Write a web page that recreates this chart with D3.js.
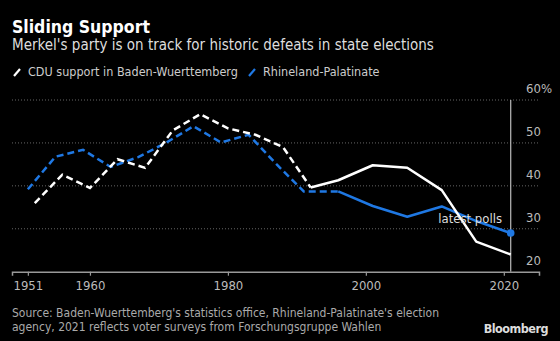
<!DOCTYPE html>
<html>
<head>
<meta charset="utf-8">
<script src="https://cdn.jsdelivr.net/npm/d3@7"></script>
<style>
  body { margin: 0; background: #000; }
  svg { display: block; }
  text { font-family: "DejaVu Sans Condensed", "Liberation Sans Narrow", Roboto, sans-serif; }
</style>
</head>
<body>
<div id="chart"></div>
<script>
// CDU vote share (%) in Baden-Wuerttemberg
var bwYears = [1952, 1956, 1960, 1964, 1968, 1972, 1976, 1980, 1984, 1988, 1992, 1996, 2001, 2006, 2011, 2016, 2021];
var bwValues = [36.0, 42.6, 39.5, 46.2, 44.2, 52.9, 56.7, 53.4, 51.9, 49.0, 39.6, 41.3, 44.8, 44.2, 39.0, 27.0, 24.0];
// CDU vote share (%) in Rhineland-Palatinate
var rpYears = [1951, 1955, 1959, 1963, 1967, 1971, 1975, 1979, 1983, 1987, 1991, 1996, 2001, 2006, 2011, 2016, 2021];
var rpValues = [39.2, 46.8, 48.4, 44.4, 46.7, 50.0, 53.9, 50.1, 51.9, 45.1, 38.7, 38.7, 35.3, 32.8, 35.2, 31.8, 29.0];
// last year drawn dashed for each series
var bwDashEnd = 1992;
var rpDashEnd = 1996;

var xTicks = [1951, 1960, 1980, 2000, 2020];
var yTicks = [20, 30, 40, 50, 60];
var yTickLabels = ["20", "30", "40", "50", "60%"];

var width = 560, height = 341;
var svg = d3.select("#chart").append("svg")
    .attr("width", width)
    .attr("height", height);

var blue = "#1f78e3";

// scales
var x = d3.scaleLinear().domain([1948.7, 2025.1]).range([12, 539]);
var y = d3.scaleLinear().domain([20, 60]).range([271.7, 100]);

// title block
svg.append("text").attr("x", 12).attr("y", 32.5)
    .attr("fill", "#fff").attr("font-size", 17.5).attr("font-weight", "bold")
    .text("Sliding Support");
svg.append("text").attr("x", 12).attr("y", 50)
    .attr("fill", "#ddd").attr("font-size", 15)
    .text("Merkel's party is on track for historic defeats in state elections");

// legend
var legend = [
    { label: "CDU support in Baden-Wuerttemberg", color: "#fff", x: 14 },
    { label: "Rhineland-Palatinate", color: blue, x: 249 }
];
var lg = svg.selectAll(".legend").data(legend).enter().append("g")
    .attr("transform", d => `translate(${d.x}, 76)`);
lg.append("line")
    .attr("x1", 0).attr("y1", 0).attr("x2", 6).attr("y2", -7)
    .attr("stroke", d => d.color).attr("stroke-width", 2.2);
lg.append("text").attr("x", 14).attr("y", 0)
    .attr("fill", "#ccc").attr("font-size", 12.5)
    .text(d => d.label);

// gridlines
svg.append("g").selectAll("line")
    .data(yTicks.filter(d => d > 20))
    .enter().append("line")
    .attr("x1", 12).attr("x2", 539)
    .attr("y1", d => y(d)).attr("y2", d => y(d))
    .attr("stroke", "#666").attr("stroke-width", 1)
    .attr("stroke-dasharray", "1,2");

// y labels, right side, above each line
svg.append("g").selectAll("text")
    .data(yTicks)
    .enter().append("text")
    .attr("x", 526).attr("y", d => y(d) - 7)
    .attr("fill", "#bbb").attr("font-size", 13)
    .text((d, i) => yTickLabels[i]);

// right vertical line at the latest year
svg.append("line")
    .attr("x1", x(2021)).attr("x2", x(2021))
    .attr("y1", y(60)).attr("y2", y(20))
    .attr("stroke", "#bbb").attr("stroke-width", 1.2);

// x axis
var xAxis = d3.axisBottom(x).tickValues(xTicks).tickFormat(d3.format("d"))
    .tickSize(4).tickPadding(5);
var gx = svg.append("g")
    .attr("transform", `translate(0, ${y(20)})`)
    .call(xAxis);
gx.select(".domain").attr("stroke", "#999").attr("stroke-width", 1.5);
gx.selectAll(".tick line").attr("stroke", "#999").attr("stroke-width", 1.2);
gx.selectAll(".tick text").attr("fill", "#bbb").attr("font-size", 13)
    .attr("font-family", null);

// lines
var line = d3.line().x(d => x(d[0])).y(d => y(d[1]));
function drawSeries(years, values, dashEnd, color) {
    var pts = years.map((yr, i) => [yr, values[i]]);
    var dashed = pts.filter(p => p[0] <= dashEnd);
    var solid = pts.filter(p => p[0] >= dashEnd);
    svg.append("path").datum(dashed)
        .attr("d", line).attr("fill", "none")
        .attr("stroke", color).attr("stroke-width", 2.5)
        .attr("stroke-dasharray", "7,4");
    svg.append("path").datum(solid)
        .attr("d", line).attr("fill", "none")
        .attr("stroke", color).attr("stroke-width", 2.5)
        .attr("stroke-linejoin", "round");
}
drawSeries(rpYears, rpValues, rpDashEnd, blue);
drawSeries(bwYears, bwValues, bwDashEnd, "#fff");

// latest poll marker
var lastI = rpYears.length - 1;
svg.append("circle")
    .attr("cx", x(rpYears[lastI])).attr("cy", y(rpValues[lastI]))
    .attr("r", 3.8).attr("fill", blue);
svg.append("text")
    .attr("x", 502).attr("y", 223)
    .attr("text-anchor", "end")
    .attr("fill", "#ddd").attr("font-size", 13)
    .text("latest polls");

// source
var source = svg.append("text").attr("fill", "#aaa").attr("font-size", 12);
source.append("tspan").attr("x", 12).attr("y", 317)
    .text("Source: Baden-Wuerttemberg's statistics office, Rhineland-Palatinate's election");
source.append("tspan").attr("x", 12).attr("y", 331)
    .text("agency, 2021 reflects voter surveys from Forschungsgruppe Wahlen");

svg.append("text")
    .attr("x", 548).attr("y", 333)
    .attr("text-anchor", "end")
    .attr("fill", "#ddd").attr("font-size", 12.5).attr("font-weight", "bold")
    .attr("font-family", "Arial, 'Liberation Sans', sans-serif")
    .attr("letter-spacing", -0.5)
    .text("Bloomberg");
</script>
</body>
</html>
